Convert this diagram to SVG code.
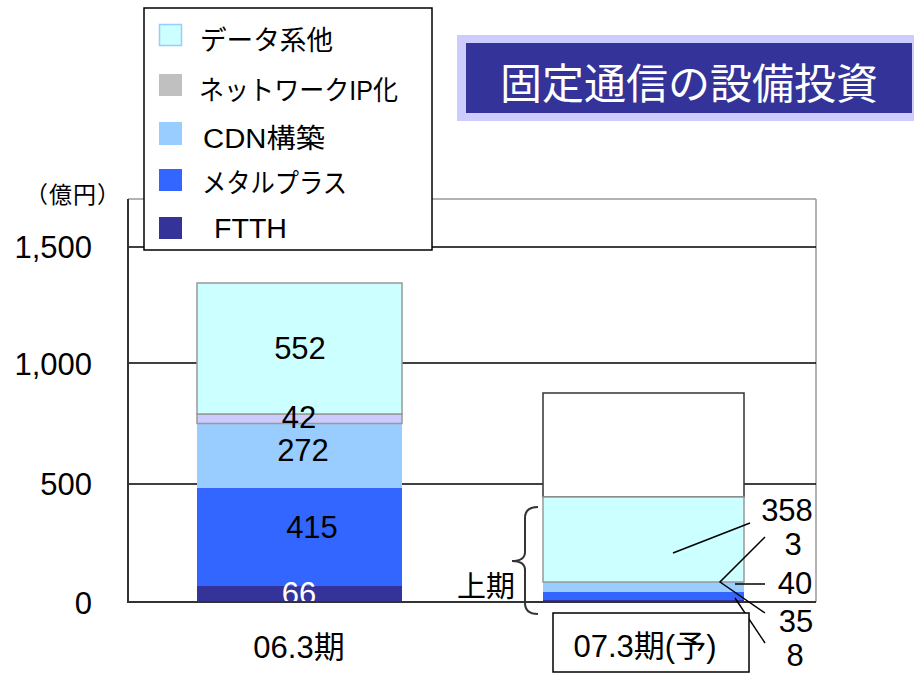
<svg xmlns="http://www.w3.org/2000/svg" width="914" height="674" viewBox="0 0 914 674">
<style>
  .num { font-family: "Liberation Sans", "Noto Sans CJK JP", sans-serif; font-size: 31px; fill: #000; }
  .jp { font-family: "Liberation Sans", "Noto Sans CJK JP", sans-serif; fill: #000; }
  .leg { font-family: "Liberation Sans", "Noto Sans CJK JP", sans-serif; font-size: 27px; fill: #000; }
  .grid { stroke: #000; stroke-width: 1.5; }
  .call { stroke: #000; stroke-width: 1.5; fill: none; }
  .data { fill: #ccffff; stroke: #999; stroke-width: 1.5; }
  .ip { fill: #ccccff; stroke: #999; stroke-width: 1.5; }
  .cdn { fill: #99ccff; }
  .metal { fill: #3366ff; }
  .ftth { fill: #333399; }
</style>
<rect x="0" y="0" width="914" height="674" fill="#fff"/>

<g id="plot-frame">
  <line x1="128" y1="199" x2="816" y2="199" stroke="#999" stroke-width="1.5"/>
  <line x1="816" y1="199" x2="816" y2="602" stroke="#999" stroke-width="1.5"/>
  <line class="grid" x1="128" y1="247" x2="816" y2="247"/>
  <line class="grid" x1="128" y1="363" x2="816" y2="363"/>
  <line class="grid" x1="128" y1="484" x2="816" y2="484"/>
</g>

<g id="axis-labels">
  <text class="jp" x="73" y="203" font-size="23" text-anchor="middle" letter-spacing="1">（億円）</text>
  <text class="num" x="92" y="258" text-anchor="end">1,500</text>
  <text class="num" x="92" y="375" text-anchor="end">1,000</text>
  <text class="num" x="92" y="495" text-anchor="end">500</text>
  <text class="num" x="92" y="614" text-anchor="end">0</text>
</g>

<g id="bar-06">
  <rect class="ftth" x="197" y="586" width="205" height="16"/>
  <rect class="metal" x="197" y="488" width="205" height="98"/>
  <rect class="cdn" x="197" y="423.5" width="205" height="64.5"/>
  <rect class="ip" x="197" y="414" width="205" height="9.5"/>
  <rect class="data" x="197" y="283" width="205" height="131"/>
  <text class="num" x="300" y="359" text-anchor="middle">552</text>
  <text class="num" x="299" y="428" text-anchor="middle">42</text>
  <text class="num" x="303" y="461" text-anchor="middle">272</text>
  <text class="num" x="312" y="538" text-anchor="middle">415</text>
  <text class="num" x="299" y="604" text-anchor="middle" style="fill:#fff">66</text>
</g>

<g id="bar-07">
  <rect x="543" y="393" width="201" height="104" fill="#fff" stroke="#333" stroke-width="1.5"/>
  <rect class="ftth" x="543" y="600" width="201" height="2"/>
  <rect class="metal" x="543" y="592" width="201" height="8"/>
  <rect class="cdn" x="543" y="582" width="201" height="10"/>
  <rect class="data" x="543" y="497" width="201" height="85"/>
</g>

<g id="axes">
  <line x1="128" y1="199" x2="128" y2="602.5" stroke="#333" stroke-width="2"/>
  <line x1="127" y1="602" x2="816" y2="602" stroke="#333" stroke-width="2"/>
</g>

<g id="connectors">
  <line class="call" x1="673" y1="553" x2="750" y2="523"/>
  <polyline class="call" points="765,537 720,582 765,613"/>
  <line class="call" x1="735" y1="584" x2="765" y2="584"/>
  <line class="call" x1="735" y1="598" x2="765" y2="643"/>
  <path d="M538,507 C529,507 525,511 525,518 L525,552 C525,558 520,561 512,561 C520,561 525,564 525,570 L525,603 C525,610 529,614 538,614" fill="none" stroke="#333" stroke-width="2"/>
</g>

<g id="bar-07-labels">
  <text class="num" x="787" y="521" text-anchor="middle">358</text>
  <text class="num" x="793" y="555" text-anchor="middle">3</text>
  <text class="num" x="795" y="594" text-anchor="middle">40</text>
  <text class="num" x="796" y="632" text-anchor="middle">35</text>
  <text class="num" x="795" y="666" text-anchor="middle">8</text>
  <text class="jp" x="457" y="597" font-size="29">上期</text>
</g>

<g id="categories">
  <text class="num" x="299" y="658" text-anchor="middle">06.3期</text>
  <rect x="553" y="613" width="196" height="59" fill="#fff" stroke="#000" stroke-width="1.5"/>
  <text class="num" x="645" y="657" text-anchor="middle">07.3期(予)</text>
</g>

<g id="legend">
  <rect x="144" y="8" width="288" height="242" fill="#fff" stroke="#000" stroke-width="1.5"/>
  <rect x="159.5" y="24.5" width="22" height="21" fill="#ccffff" stroke="#99ccff" stroke-width="1.5"/>
  <rect x="159" y="74" width="23" height="22" fill="#c0c0c0"/>
  <rect x="159" y="122" width="23" height="23" class="cdn"/>
  <rect x="159" y="169" width="23" height="22" class="metal"/>
  <rect x="159" y="217" width="23" height="22" class="ftth"/>
  <text class="leg" x="200" y="50" textLength="133" lengthAdjust="spacingAndGlyphs">データ系他</text>
  <text class="leg" x="199" y="100" textLength="199" lengthAdjust="spacingAndGlyphs">ネットワークIP化</text>
  <text class="leg" x="203" y="148" textLength="122" lengthAdjust="spacingAndGlyphs">CDN構築</text>
  <text class="leg" x="202" y="193" textLength="145" lengthAdjust="spacingAndGlyphs">メタルプラス</text>
  <text class="leg" x="214" y="238" textLength="73" lengthAdjust="spacingAndGlyphs">FTTH</text>
</g>

<g id="title">
  <rect x="457" y="35" width="457" height="86" fill="#ccccff"/>
  <rect x="466" y="43" width="446" height="70" fill="#333399"/>
  <text x="689" y="99" font-family="'Noto Sans CJK JP', sans-serif" font-size="42" fill="#fff" text-anchor="middle">固定通信の設備投資</text>
</g>
</svg>
